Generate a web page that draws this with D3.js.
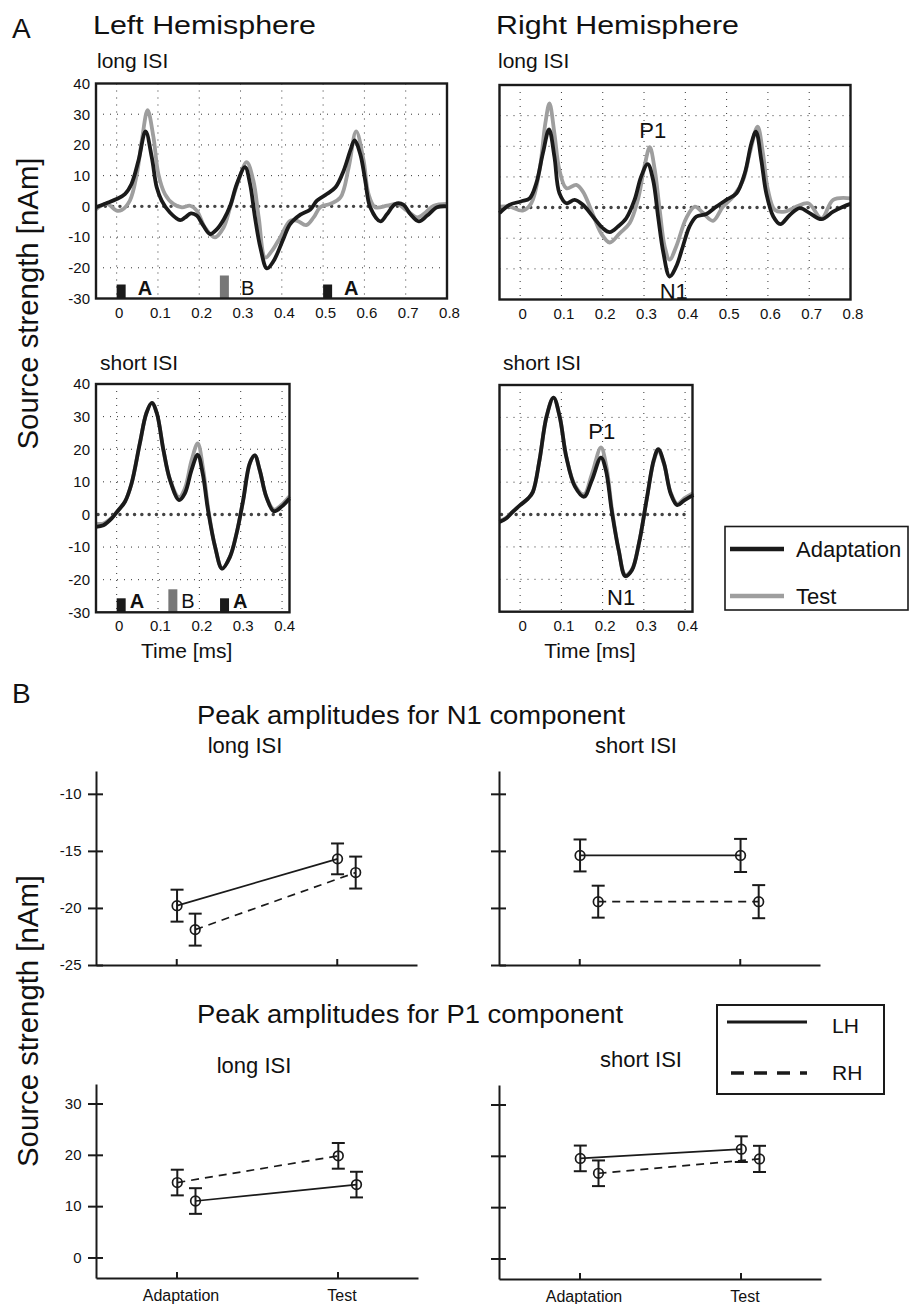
<!DOCTYPE html>
<html>
<head>
<meta charset="utf-8">
<script src="https://cdn.jsdelivr.net/npm/d3@7"></script>
<style>
  body { margin: 0; background: #fff; }
  svg { display: block; font-family: "Liberation Sans", Arial, Helvetica, sans-serif; }
</style>
</head>
<body>
<div id="chart"></div>
<script>
// ----------------------------------------------
// Data: source waveforms [time (s), strength (nAm)]
// ----------------------------------------------
const lhLongAdapt = [[-0.05,-0.3],[-0.025,1.0],[0,2.4],[0.02,4],[0.036,7.3],[0.053,15],[0.07,24.4],[0.085,16],[0.097,6.2],[0.109,1.9],[0.129,-2],[0.154,-4.5],[0.166,-3.6],[0.18,-2.3],[0.194,-3],[0.21,-6.3],[0.226,-9],[0.243,-7.4],[0.26,-4.1],[0.275,0.2],[0.291,7.3],[0.311,12.75],[0.323,7.3],[0.335,-3.6],[0.348,-13.4],[0.364,-20.2],[0.38,-17.8],[0.404,-10.5],[0.42,-5.8],[0.445,-2.7],[0.469,-1.0],[0.485,1.85],[0.509,4],[0.53,6.2],[0.55,11.7],[0.566,18.2],[0.576,21.5],[0.59,17],[0.602,8.4],[0.614,-0.3],[0.639,-4.9],[0.655,-2.5],[0.675,0.8],[0.695,0.5],[0.711,-2.5],[0.732,-4.9],[0.752,-3],[0.776,-0.3],[0.8,0]];
const lhLongTest = [[-0.05,-0.9],[-0.024,0.8],[0,-1.4],[0.012,-1.2],[0.032,1.9],[0.049,10.6],[0.061,21.5],[0.075,31.3],[0.089,22.6],[0.101,10.6],[0.117,4],[0.137,0.8],[0.158,-0.3],[0.178,0.2],[0.194,-1.4],[0.214,-6.9],[0.238,-10.1],[0.259,-6.9],[0.275,-0.3],[0.295,8.4],[0.315,14.4],[0.331,8.4],[0.344,-3.6],[0.36,-16.7],[0.376,-14.5],[0.396,-10.1],[0.42,-4.7],[0.437,-4.7],[0.459,-6.1],[0.477,-3.6],[0.493,-0.3],[0.517,0.8],[0.542,2.9],[0.562,12.75],[0.58,24.4],[0.598,15],[0.61,4],[0.626,-0.3],[0.655,0.2],[0.679,0.8],[0.703,-1.4],[0.728,-3.6],[0.748,-2],[0.768,0.2],[0.8,0.8]];

const rhLongAdapt = [[-0.05,-1.8],[-0.026,0.9],[0.002,2],[0.023,3],[0.039,7.9],[0.055,17.7],[0.07,25.5],[0.083,16.6],[0.095,4.7],[0.112,1.4],[0.132,2.5],[0.152,0.9],[0.176,-2.9],[0.2,-6.7],[0.217,-8],[0.237,-6.2],[0.257,-3.5],[0.277,2.5],[0.293,10.1],[0.309,14.2],[0.322,9],[0.334,-2.9],[0.347,-14.9],[0.362,-22.5],[0.378,-19.2],[0.394,-12.7],[0.41,-6.2],[0.427,-2.9],[0.451,-2.1],[0.475,0.3],[0.499,2.5],[0.524,4.7],[0.544,11.2],[0.56,21],[0.571,24.8],[0.584,15.5],[0.596,4.7],[0.613,-2.9],[0.63,-5.4],[0.653,-2.4],[0.677,-0.2],[0.701,-1.8],[0.73,-3.8],[0.758,-1.3],[0.782,0.3],[0.8,1.2]];
const rhLongTest = [[-0.05,0.3],[-0.026,0.3],[0.006,-1],[0.027,1.4],[0.047,12.3],[0.061,27.5],[0.071,34],[0.083,24.2],[0.095,12.3],[0.112,6.3],[0.136,7.4],[0.152,5.2],[0.172,-0.8],[0.196,-8.4],[0.217,-11.4],[0.241,-8.4],[0.265,-5.1],[0.285,2.5],[0.301,13.4],[0.314,19.7],[0.326,12.3],[0.338,-0.8],[0.35,-12.7],[0.362,-17],[0.378,-12.7],[0.402,-3.5],[0.423,0.3],[0.443,-1.8],[0.467,-4.3],[0.491,0.3],[0.516,3.6],[0.54,9],[0.556,17.7],[0.575,26.4],[0.588,17.7],[0.6,5.8],[0.617,-0.8],[0.641,-1.3],[0.669,0.3],[0.698,1.4],[0.73,-3.5],[0.758,2.5],[0.8,3]];

const lhShortAdapt = [[-0.05,-3.8],[-0.032,-3.3],[-0.012,-1.2],[0.004,1.3],[0.02,3.9],[0.036,9.5],[0.056,21.8],[0.072,31.1],[0.085,34.2],[0.097,31.1],[0.113,19.8],[0.129,10.6],[0.151,4.4],[0.165,6.5],[0.181,13.6],[0.196,18.3],[0.208,12.6],[0.221,1.3],[0.238,-9.9],[0.255,-16.6],[0.274,-13],[0.29,-5.8],[0.306,4.4],[0.322,15.7],[0.334,18.1],[0.346,13.6],[0.362,5.4],[0.38,1],[0.399,2.4],[0.418,4.9]];
const lhShortTest = [[-0.05,-2.8],[-0.032,-2.8],[-0.012,-1.0],[0.004,1.3],[0.02,3.9],[0.036,9.5],[0.056,21.8],[0.072,31.1],[0.085,34.2],[0.097,31.1],[0.113,19.8],[0.129,10.6],[0.151,5.3],[0.165,8],[0.181,16.5],[0.196,21.8],[0.209,14],[0.222,1.3],[0.238,-9.9],[0.255,-16.6],[0.274,-13],[0.29,-5.8],[0.306,4.4],[0.322,15.7],[0.334,18.1],[0.346,13.6],[0.362,5.4],[0.38,1.5],[0.399,3],[0.418,5.6]];

const rhShortAdapt = [[-0.05,-2.3],[-0.034,-1.2],[-0.018,0.8],[0,2.9],[0.019,4.9],[0.031,7],[0.047,16.8],[0.064,30.2],[0.081,36.1],[0.096,30.2],[0.112,17.8],[0.133,8.6],[0.155,5.5],[0.174,10.6],[0.196,17.6],[0.208,13.7],[0.222,1.3],[0.239,-11],[0.255,-19],[0.271,-17.2],[0.288,-9],[0.308,5.5],[0.324,16.8],[0.335,20.2],[0.349,15.8],[0.365,6.5],[0.381,2.9],[0.398,4.4],[0.42,6]];
const rhShortTest = [[-0.05,-2.0],[-0.034,-1.0],[-0.018,0.9],[0,2.9],[0.019,4.9],[0.031,7],[0.047,16.8],[0.064,30.2],[0.081,36.1],[0.096,30.2],[0.112,17.8],[0.133,9],[0.155,6.2],[0.174,12.5],[0.196,20.7],[0.209,15],[0.223,1.3],[0.239,-11],[0.255,-18.6],[0.271,-17],[0.288,-9],[0.308,5.5],[0.324,16.5],[0.335,19.6],[0.349,15.6],[0.365,6.8],[0.381,3.3],[0.398,5],[0.42,6.6]];

// axis ticks
const longTicks = [0, 0.1, 0.2, 0.3, 0.4, 0.5, 0.6, 0.7, 0.8];
const shortTicks = [0, 0.1, 0.2, 0.3, 0.4];
const waveYTicks = [-30, -20, -10, 0, 10, 20, 30, 40];

// stimulus sequence markers
const longStimT = [0, 0.25, 0.5];
const shortStimT = [0, 0.125, 0.25];
const stimLabels = ['A', 'B', 'A'];

// ----------------------------------------------
// Data: peak amplitudes (mean, error) for Adaptation / Test
// ----------------------------------------------
const conditions = ['Adaptation', 'Test'];

const n1LongLH = [-19.8, -15.7];  const n1LongLHErr = [1.4, 1.35];
const n1LongRH = [-21.9, -16.9];  const n1LongRHErr = [1.4, 1.4];
const n1ShortLH = [-15.4, -15.4]; const n1ShortLHErr = [1.4, 1.45];
const n1ShortRH = [-19.45, -19.45]; const n1ShortRHErr = [1.4, 1.45];

const p1LongLH = [11.0, 14.2];  const p1LongLHErr = [2.5, 2.5];
const p1LongRH = [14.6, 19.8];  const p1LongRHErr = [2.5, 2.5];
const p1ShortLH = [19.5, 21.3]; const p1ShortLHErr = [2.5, 2.5];
const p1ShortRH = [16.6, 19.4]; const p1ShortRHErr = [2.5, 2.55];

const n1Ticks = [-25, -20, -15, -10];
const p1Ticks = [0, 10, 20, 30];

// ----------------------------------------------
// Setup
// ----------------------------------------------
const W = 909, H = 1304;
const BLACK = '#1a1a1a';
const TEST_GRAY = '#9e9e9e';

const svg = d3.select('#chart').append('svg')
  .attr('width', W)
  .attr('height', H);

function addText(x, y, str, size, opts = {}) {
  const t = svg.append('text')
    .attr('x', x)
    .attr('y', y)
    .attr('font-size', size)
    .attr('fill', '#111')
    .attr('text-anchor', opts.anchor || 'start')
    .text(str);
  if (opts.weight) t.attr('font-weight', opts.weight);
  if (opts.length) t.attr('textLength', opts.length).attr('lengthAdjust', 'spacingAndGlyphs');
  return t;
}

// d3 axes put font-family="sans-serif" on the group; drop it so the page font applies
function plainAxis(a, size) {
  a.attr('font-family', null).attr('font-size', null);
  a.selectAll('text').attr('font-size', size).attr('fill', '#111');
  return a;
}

// ----------------------------------------------
// Waveform panel (A)
// ----------------------------------------------
function drawWave(p) {
  const g = svg.append('g');
  const x = d3.scaleLinear().domain(p.tDomain).range([p.left, p.left + p.width]);
  const y = d3.scaleLinear().domain([-30, 40]).range([p.top + p.height, p.top]);

  // dotted grid
  g.append('g').selectAll('line')
    .data(p.ticks)
    .join('line')
    .attr('x1', d => x(d)).attr('x2', d => x(d))
    .attr('y1', p.top).attr('y2', p.top + p.height)
    .attr('stroke', '#333').attr('stroke-width', 1)
    .attr('stroke-dasharray', '1,6');
  g.append('g').selectAll('line')
    .data(waveYTicks.filter(d => d !== 0 && d !== -30 && d !== 40))
    .join('line')
    .attr('x1', p.left).attr('x2', p.left + p.width)
    .attr('y1', d => y(d)).attr('y2', d => y(d))
    .attr('stroke', '#333').attr('stroke-width', 1)
    .attr('stroke-dasharray', '1,6');

  // zero line
  g.append('line')
    .attr('x1', p.left + 2).attr('x2', p.left + p.width - 2)
    .attr('y1', y(0)).attr('y2', y(0))
    .attr('stroke', '#444').attr('stroke-width', 3.4)
    .attr('stroke-linecap', 'round')
    .attr('stroke-dasharray', '0.1,7.2');

  // stimulus markers
  if (p.stim) {
    p.stim.forEach((t, i) => {
      const isB = stimLabels[i] === 'B';
      const h = isB ? 23 : 14;
      g.append('rect')
        .attr('x', x(t)).attr('y', p.top + p.height - h)
        .attr('width', 9).attr('height', h)
        .attr('fill', isB ? '#777' : BLACK);
      g.append('text')
        .attr('x', x(t) + 9 + p.stimGap)
        .attr('y', p.top + p.height - 4)
        .attr('font-size', 20)
        .attr('font-weight', isB ? 'normal' : 'bold')
        .attr('fill', '#111')
        .text(stimLabels[i]);
    });
  }

  const line = d3.line()
    .x(d => x(d[0]))
    .y(d => y(d[1]))
    .curve(d3.curveCatmullRom.alpha(0.5));

  g.append('path').datum(p.test)
    .attr('d', line).attr('fill', 'none')
    .attr('stroke', TEST_GRAY).attr('stroke-width', 3.8)
    .attr('stroke-linejoin', 'round');
  g.append('path').datum(p.adapt)
    .attr('d', line).attr('fill', 'none')
    .attr('stroke', BLACK).attr('stroke-width', 3.8)
    .attr('stroke-linejoin', 'round');

  // peak labels
  (p.peaks || []).forEach(pk => {
    g.append('text')
      .attr('x', x(pk.t)).attr('y', y(pk.v))
      .attr('text-anchor', 'middle')
      .attr('font-size', 22).attr('fill', '#111')
      .text(pk.label);
  });

  // frame
  g.append('rect')
    .attr('x', p.left).attr('y', p.top)
    .attr('width', p.width).attr('height', p.height)
    .attr('fill', 'none').attr('stroke', BLACK).attr('stroke-width', 2.4);

  // axes (labels only)
  const xAxis = g.append('g')
    .attr('transform', `translate(2,${p.top + p.height})`)
    .call(d3.axisBottom(x).tickValues(p.ticks).tickSize(0).tickPadding(8.5)
      .tickFormat(d => d === 0 ? '0' : d3.format('.1f')(d)));
  xAxis.select('.domain').remove();
  plainAxis(xAxis, 15);

  if (p.yLabels) {
    const yAxis = g.append('g')
      .attr('transform', `translate(${p.left},0)`)
      .call(d3.axisLeft(y).tickValues(waveYTicks).tickSize(0).tickPadding(6)
        .tickFormat(d => String(d)));
    yAxis.select('.domain').remove();
    plainAxis(yAxis, 15);
  }

  if (p.xTitle) {
    addText(p.left + p.width / 2 - 6, p.top + p.height + 46, 'Time [ms]', 21, { anchor: 'middle' });
  }
}

// ----------------------------------------------
// Peak amplitude panel (B)
// ----------------------------------------------
function drawPeaks(p) {
  const g = svg.append('g');
  const x = d3.scaleLinear().domain([0.5, 2.5]).range([p.left, p.left + p.width]);
  const y = d3.scaleLinear().domain(p.yDomain).range([p.top + p.height, p.top]);
  const catIdx = [1, 2];
  const shift = [0.005, 0.118];

  const yAxis = g.append('g')
    .attr('transform', `translate(${p.left},0)`)
    .call(d3.axisLeft(y).tickValues(p.ticks).tickSizeInner(8).tickSizeOuter(0).tickPadding(6.5)
      .tickFormat(p.yLabels ? (d => String(d)) : () => ''));
  yAxis.selectAll('.tick line').attr('x1', 7);
  const xAxis = g.append('g')
    .attr('transform', `translate(0,${p.top + p.height})`)
    .call(d3.axisBottom(x).tickValues(catIdx).tickSizeInner(-6).tickSizeOuter(0).tickPadding(11.5)
      .tickFormat(p.xLabels ? (d => conditions[d - 1]) : () => ''));
  [xAxis, yAxis].forEach(a => {
    a.selectAll('path, line').attr('stroke', BLACK).attr('stroke-width', 2);
  });
  plainAxis(yAxis, 15);
  plainAxis(xAxis, 16);
  xAxis.selectAll('text').attr('dx', 4);

  // p.series: [{vals, errs, dash}], in drawing order (first sits left)
  p.series.forEach((s, k) => {
    const pts = s.vals.map((v, i) => ({ x: x(catIdx[i] + shift[k]), v, e: s.errs[i] }));
    g.append('line')
      .attr('x1', pts[0].x).attr('y1', y(pts[0].v))
      .attr('x2', pts[1].x).attr('y2', y(pts[1].v))
      .attr('stroke', BLACK).attr('stroke-width', 1.7)
      .attr('stroke-dasharray', s.dash ? '8,6' : null);
    pts.forEach(pt => {
      const eb = g.append('g').attr('stroke', BLACK).attr('stroke-width', 2);
      eb.append('line').attr('x1', pt.x).attr('x2', pt.x)
        .attr('y1', y(pt.v - pt.e)).attr('y2', y(pt.v + pt.e));
      [pt.v - pt.e, pt.v + pt.e].forEach(ev => {
        eb.append('line').attr('x1', pt.x - 6.5).attr('x2', pt.x + 6.5)
          .attr('y1', y(ev)).attr('y2', y(ev));
      });
      g.append('circle')
        .attr('cx', pt.x).attr('cy', y(pt.v)).attr('r', 4.8)
        .attr('fill', 'none').attr('stroke', BLACK).attr('stroke-width', 1.7);
    });
  });
}

// ----------------------------------------------
// Panel A
// ----------------------------------------------
addText(12, 38, 'A', 28);
addText(93, 34, 'Left Hemisphere', 25, { length: 223 });
addText(496, 34, 'Right Hemisphere', 25, { length: 243 });
addText(97, 68, 'long ISI', 21);
addText(498, 68, 'long ISI', 21);
addText(100, 370, 'short ISI', 21);
addText(503, 370, 'short ISI', 21);

drawWave({ left: 96, top: 83.5, width: 351, height: 215, tDomain: [-0.05, 0.8], ticks: longTicks,
  adapt: lhLongAdapt, test: lhLongTest, stim: longStimT, stimGap: 12, yLabels: true });
drawWave({ left: 499.5, top: 85, width: 351, height: 214.5, tDomain: [-0.05, 0.8], ticks: longTicks,
  adapt: rhLongAdapt, test: rhLongTest,
  peaks: [{ label: 'P1', t: 0.321, v: 22.6 }, { label: 'N1', t: 0.372, v: -29.7 }] });
drawWave({ left: 96, top: 384, width: 193.5, height: 228.3, tDomain: [-0.05, 0.418], ticks: shortTicks,
  adapt: lhShortAdapt, test: lhShortTest, stim: shortStimT, stimGap: 4, yLabels: true, xTitle: true });
drawWave({ left: 499.5, top: 385, width: 193, height: 226.7, tDomain: [-0.05, 0.418], ticks: shortTicks,
  adapt: rhShortAdapt, test: rhShortTest, xTitle: true,
  peaks: [{ label: 'P1', t: 0.198, v: 23.2 }, { label: 'N1', t: 0.245, v: -27.8 }] });

// legend A
svg.append('rect').attr('x', 725).attr('y', 526.5).attr('width', 183).attr('height', 83.5)
  .attr('fill', 'none').attr('stroke', BLACK).attr('stroke-width', 1.6);
[['Adaptation', BLACK, 549], ['Test', TEST_GRAY, 596]].forEach(([lab, col, ly]) => {
  svg.append('line').attr('x1', 730).attr('x2', 784).attr('y1', ly).attr('y2', ly)
    .attr('stroke', col).attr('stroke-width', 4.5);
  addText(796, ly + 7.5, lab, 22);
});

// y title (both panels)
[303.5, 1021].forEach(cy => {
  svg.append('text')
    .attr('transform', `translate(38,${cy}) rotate(-90)`)
    .attr('text-anchor', 'middle')
    .attr('font-size', 30)
    .attr('textLength', 292).attr('lengthAdjust', 'spacingAndGlyphs')
    .attr('fill', '#111')
    .text('Source strength [nAm]');
});

// ----------------------------------------------
// Panel B
// ----------------------------------------------
addText(12, 703, 'B', 28);
addText(197, 724, 'Peak amplitudes for N1 component', 25, { length: 428 });
addText(245, 753, 'long ISI', 22, { anchor: 'middle' });
addText(636, 753, 'short ISI', 22, { anchor: 'middle' });
addText(197, 1023, 'Peak amplitudes for P1 component', 25, { length: 426 });
addText(254, 1073, 'long ISI', 22, { anchor: 'middle' });
addText(641, 1067, 'short ISI', 22, { anchor: 'middle' });

drawPeaks({ left: 96, top: 771, width: 321, height: 194, yDomain: [-25, -8], ticks: n1Ticks,
  yLabels: true, xLabels: false,
  series: [{ vals: n1LongLH, errs: n1LongLHErr }, { vals: n1LongRH, errs: n1LongRHErr, dash: true }] });
drawPeaks({ left: 499, top: 771, width: 321, height: 194, yDomain: [-25, -8], ticks: n1Ticks,
  yLabels: false, xLabels: false,
  series: [{ vals: n1ShortLH, errs: n1ShortLHErr }, { vals: n1ShortRH, errs: n1ShortRHErr, dash: true }] });
drawPeaks({ left: 96, top: 1084, width: 322, height: 194, yDomain: [-4, 33.8], ticks: p1Ticks,
  yLabels: true, xLabels: true,
  series: [{ vals: p1LongRH, errs: p1LongRHErr, dash: true }, { vals: p1LongLH, errs: p1LongLHErr }] });
drawPeaks({ left: 499, top: 1085, width: 322, height: 194, yDomain: [-4, 33.8], ticks: p1Ticks,
  yLabels: false, xLabels: true,
  series: [{ vals: p1ShortLH, errs: p1ShortLHErr }, { vals: p1ShortRH, errs: p1ShortRHErr, dash: true }] });

// legend B
svg.append('rect').attr('x', 717).attr('y', 1005).attr('width', 167).attr('height', 89)
  .attr('fill', 'none').attr('stroke', BLACK).attr('stroke-width', 2);
svg.append('line').attr('x1', 727).attr('x2', 807).attr('y1', 1022).attr('y2', 1022)
  .attr('stroke', BLACK).attr('stroke-width', 3);
svg.append('line').attr('x1', 731).attr('x2', 807).attr('y1', 1073).attr('y2', 1073)
  .attr('stroke', BLACK).attr('stroke-width', 3.5).attr('stroke-dasharray', '13,10');
addText(832, 1033, 'LH', 21);
addText(832, 1080, 'RH', 21);
</script>
</body>
</html>
